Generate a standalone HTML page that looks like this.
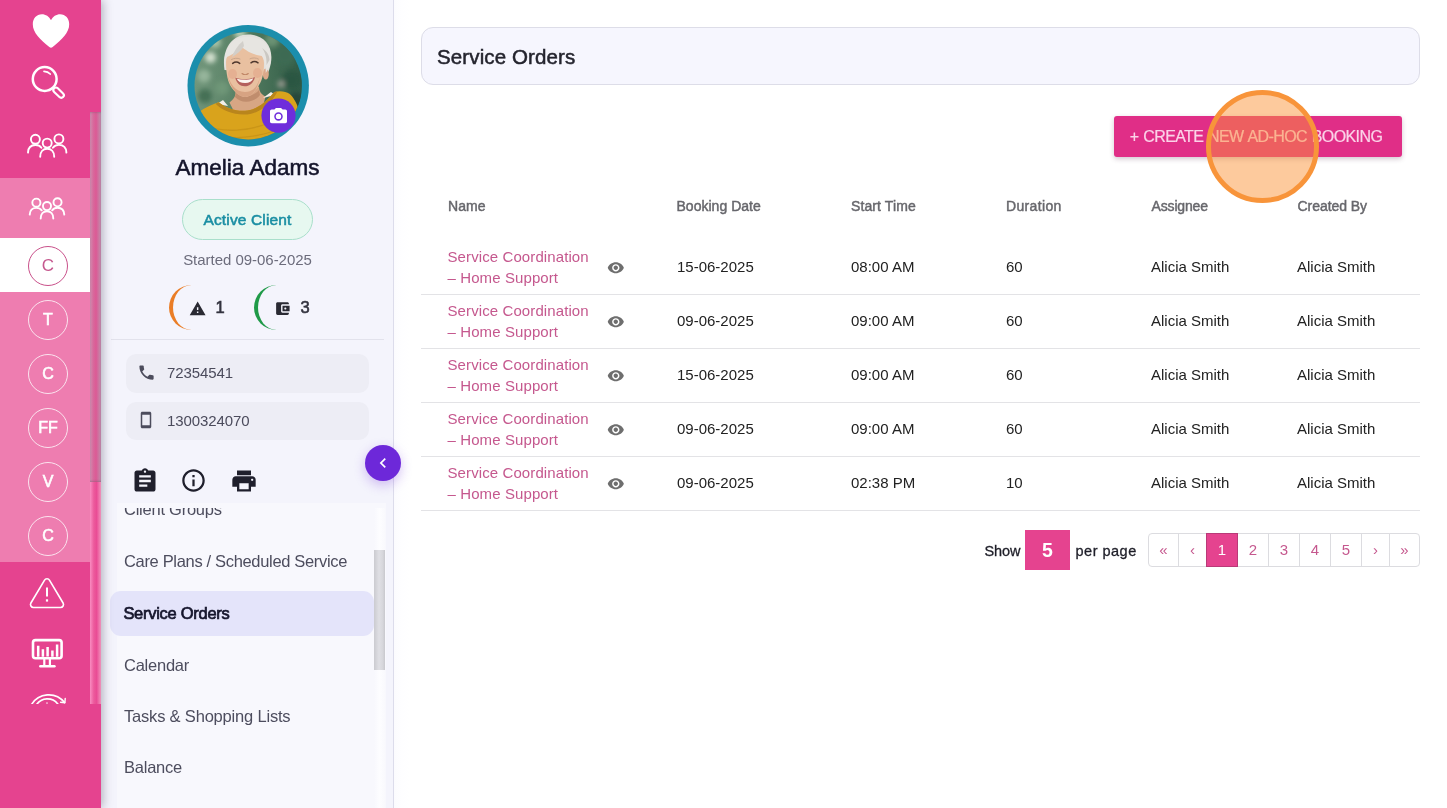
<!DOCTYPE html>
<html lang="en">
<head>
<meta charset="utf-8">
<title>Service Orders</title>
<style>
*{box-sizing:border-box;margin:0;padding:0}
html,body{width:1447px;height:808px;overflow:hidden;background:#fff}
body{font-family:"Liberation Sans",sans-serif;position:relative;color:#222}
.abs{position:absolute}
/* ---------- left rail ---------- */
#rail{position:absolute;left:0;top:0;width:101px;height:808px;background:#e5438f;box-shadow:2px 0 9px rgba(55,50,70,.34);z-index:5}
#rail .light{position:absolute;left:0;top:178px;width:90px;height:384px;background:#ee7db0}
#rail .sel{position:absolute;left:0;top:238px;width:90px;height:54px;background:#fff}
#rail .sb{position:absolute;left:90px;top:112px;width:11px;height:592px}
#rail .track{position:absolute;left:0;top:369px;width:11px;height:223px;background:linear-gradient(90deg,#f98cc1 0,#ec5a9c 35%,#e94c95 60%,#ef80b2 90%,#ea95bb 100%)}
#rail .thumb{position:absolute;left:0;top:0;width:11px;height:370px;background:linear-gradient(90deg,#cf8cae 0,#d8699c 30%,#dc5a95 55%,#c483a6 90%,#be86a8 100%);box-shadow:inset 0 -2px 2px -1px rgba(120,90,110,.45),inset 0 2px 2px -1px rgba(120,90,110,.35)}
.ini{position:absolute;left:28px;width:40px;height:40px;border-radius:50%;border:1.3px solid #fbe3ee;color:#fff;-webkit-text-stroke:.6px #fff;font-size:16px;text-align:center;line-height:38px}
.ini.on{border-color:#c9508a;color:#c5588e;-webkit-text-stroke:0;font-size:17px;line-height:37.500px}
/* ---------- profile panel ---------- */
#panel{position:absolute;left:101px;top:0;width:293px;height:808px;background:#f4f4fc;border-right:1px solid #dcdceb;z-index:2}
#main{position:absolute;left:394px;top:0;width:1053px;height:808px;background:linear-gradient(90deg,#fbfbfe 0,#fefeff 8px,#fff 16px)}
.nm{position:absolute;left:0;width:293px;text-align:center}
.field{position:absolute;left:25px;width:243px;height:39px;border-radius:10px;background:#ededf5}
.field span{position:absolute;left:41px;top:10px;font-size:15px;color:#4b4b5c;letter-spacing:-.1px}
.mi{position:absolute;left:23px;font-size:16.5px;color:#4d4d5e;white-space:nowrap;letter-spacing:-.24px}
/* ---------- table ---------- */
.th{position:absolute;top:198px;font-size:14px;color:#67676c;-webkit-text-stroke:.45px #67676c;white-space:nowrap;letter-spacing:.1px}
.row{position:absolute;left:27px;width:999px;height:54px;border-bottom:1px solid #e3e3e6}
.row span{position:absolute;top:17px;font-size:15px;color:#222;white-space:nowrap}
.row .lnk{top:4.500px;left:26.500px;color:#c5588e;line-height:21px;letter-spacing:.1px}
.row svg{position:absolute;left:186px;top:18px}
.pg{position:absolute;top:533px;height:34px;border:1px solid #dcdce0;background:#fff;color:#c5588e;font-size:15px;text-align:center;line-height:31px}
</style>
</head>
<body>
<div id="main">
<div class="abs" id="card" style="left:27px;top:27px;width:999px;height:58px;border-radius:12px;background:#f6f6fe;border:1px solid #dddde8"></div>
<div class="abs" id="title" style="left:43px;top:45px;font-size:20.500px;color:#24242e;-webkit-text-stroke:.5px #24242e;white-space:nowrap;letter-spacing:.12px">Service Orders</div>
<div class="abs" id="btn" style="left:720px;top:116px;width:288px;height:41px;border-radius:3px;padding-right:4px;background:#e02e87;box-shadow:0 2px 5px rgba(70,20,60,.24);color:#fbd3e8;font-size:16px;text-align:center;line-height:41.500px;white-space:nowrap;letter-spacing:-.6px;word-spacing:.9px;-webkit-text-stroke:.2px #fbd3e8">+ CREATE NEW AD-HOC BOOKING</div>
<div class="th" style="left:54px">Name</div>
<div class="th" style="left:282.500px;letter-spacing:.02px">Booking Date</div>
<div class="th" style="left:457px">Start Time</div>
<div class="th" style="left:612px;letter-spacing:.35px">Duration</div>
<div class="th" style="left:757.500px;letter-spacing:-.15px">Assignee</div>
<div class="th" style="left:903.500px;letter-spacing:-.05px">Created By</div>
<div class="row" style="top:241px"><span class="lnk">Service Coordination<br>– Home Support</span><svg width="17.600" height="17.600" viewBox="0 0 24 24"><path fill="#6e6e6e" d="M12 4.500C7 4.500 2.730 7.610 1 12c1.730 4.390 6 7.500 11 7.500s9.270-3.110 11-7.500c-1.730-4.390-6-7.500-11-7.500zM12 17c-2.760 0-5-2.240-5-5s2.240-5 5-5 5 2.240 5 5-2.240 5-5 5zm0-8c-1.660 0-3 1.340-3 3s1.340 3 3 3 3-1.340 3-3-1.340-3-3-3z"/></svg><span style="left:256px">15-06-2025</span><span style="left:430px">08:00 AM</span><span style="left:585px">60</span><span style="left:730px">Alicia Smith</span><span style="left:876px">Alicia Smith</span></div>
<div class="row" style="top:295px"><span class="lnk">Service Coordination<br>– Home Support</span><svg width="17.600" height="17.600" viewBox="0 0 24 24"><path fill="#6e6e6e" d="M12 4.500C7 4.500 2.730 7.610 1 12c1.730 4.390 6 7.500 11 7.500s9.270-3.110 11-7.500c-1.730-4.390-6-7.500-11-7.500zM12 17c-2.760 0-5-2.240-5-5s2.240-5 5-5 5 2.240 5 5-2.240 5-5 5zm0-8c-1.660 0-3 1.340-3 3s1.340 3 3 3 3-1.340 3-3-1.340-3-3-3z"/></svg><span style="left:256px">09-06-2025</span><span style="left:430px">09:00 AM</span><span style="left:585px">60</span><span style="left:730px">Alicia Smith</span><span style="left:876px">Alicia Smith</span></div>
<div class="row" style="top:349px"><span class="lnk">Service Coordination<br>– Home Support</span><svg width="17.600" height="17.600" viewBox="0 0 24 24"><path fill="#6e6e6e" d="M12 4.500C7 4.500 2.730 7.610 1 12c1.730 4.390 6 7.500 11 7.500s9.270-3.110 11-7.500c-1.730-4.390-6-7.500-11-7.500zM12 17c-2.760 0-5-2.240-5-5s2.240-5 5-5 5 2.240 5 5-2.240 5-5 5zm0-8c-1.660 0-3 1.340-3 3s1.340 3 3 3 3-1.340 3-3-1.340-3-3-3z"/></svg><span style="left:256px">15-06-2025</span><span style="left:430px">09:00 AM</span><span style="left:585px">60</span><span style="left:730px">Alicia Smith</span><span style="left:876px">Alicia Smith</span></div>
<div class="row" style="top:403px"><span class="lnk">Service Coordination<br>– Home Support</span><svg width="17.600" height="17.600" viewBox="0 0 24 24"><path fill="#6e6e6e" d="M12 4.500C7 4.500 2.730 7.610 1 12c1.730 4.390 6 7.500 11 7.500s9.270-3.110 11-7.500c-1.730-4.390-6-7.500-11-7.500zM12 17c-2.760 0-5-2.240-5-5s2.240-5 5-5 5 2.240 5 5-2.240 5-5 5zm0-8c-1.660 0-3 1.340-3 3s1.340 3 3 3 3-1.340 3-3-1.340-3-3-3z"/></svg><span style="left:256px">09-06-2025</span><span style="left:430px">09:00 AM</span><span style="left:585px">60</span><span style="left:730px">Alicia Smith</span><span style="left:876px">Alicia Smith</span></div>
<div class="row" style="top:457px"><span class="lnk">Service Coordination<br>– Home Support</span><svg width="17.600" height="17.600" viewBox="0 0 24 24"><path fill="#6e6e6e" d="M12 4.500C7 4.500 2.730 7.610 1 12c1.730 4.390 6 7.500 11 7.500s9.270-3.110 11-7.500c-1.730-4.390-6-7.500-11-7.500zM12 17c-2.760 0-5-2.240-5-5s2.240-5 5-5 5 2.240 5 5-2.240 5-5 5zm0-8c-1.660 0-3 1.340-3 3s1.340 3 3 3 3-1.340 3-3-1.340-3-3-3z"/></svg><span style="left:256px">09-06-2025</span><span style="left:430px">02:38 PM</span><span style="left:585px">10</span><span style="left:730px">Alicia Smith</span><span style="left:876px">Alicia Smith</span></div>

<div class="abs" id="show" style="left:590.500px;top:543px;font-size:14.500px;color:#1e1e28;-webkit-text-stroke:.3px #1e1e28;white-space:nowrap;letter-spacing:-.1px">Show</div>
<div class="abs" style="left:631px;top:530px;width:45px;height:40px;background:#e5438f;color:#fff;font-weight:700;font-size:19.500px;text-align:center;line-height:40.500px">5</div>
<div class="abs" id="pp" style="left:681.500px;top:543px;font-size:14.500px;color:#1e1e28;-webkit-text-stroke:.3px #1e1e28;white-space:nowrap;letter-spacing:.5px">per page</div>
<div class="pg" style="left:754px;width:31px;border-radius:4px 0 0 4px">«</div>
<div class="pg" style="left:784px;width:29px">‹</div>
<div class="pg" style="left:843px;width:32px">2</div>
<div class="pg" style="left:874px;width:32px">3</div>
<div class="pg" style="left:905px;width:32px">4</div>
<div class="pg" style="left:936px;width:32px">5</div>
<div class="pg" style="left:967px;width:29px">›</div>
<div class="pg" style="left:995px;width:31px;border-radius:0 4px 4px 0">»</div>
<div class="pg" style="left:812px;width:32px;background:#e5438f;border-color:#b93a78;color:#fff">1</div>
<div class="abs" id="ring" style="left:811.500px;top:89.700px;width:113px;height:113px;border-radius:50%;border:5.800px solid #f8943a;background:rgba(251,146,55,.49)"></div>
</div>
<div id="panel">
<!-- avatar (page coords via viewBox) -->
<svg class="abs" style="left:79px;top:18px" width="136" height="136" viewBox="180 18 136 136">
<defs>
<clipPath id="pc"><circle cx="248.2" cy="85.700" r="53.700"/></clipPath>
<linearGradient id="bgG" x1="0" x2="1" y1="0" y2="0"><stop offset="0" stop-color="#74987d"/><stop offset=".45" stop-color="#557e62"/><stop offset="1" stop-color="#2b5642"/></linearGradient>
<filter id="bl" x="-20%" y="-20%" width="140%" height="140%"><feGaussianBlur stdDeviation="2.600"/></filter>
<filter id="bl2" x="-20%" y="-20%" width="140%" height="140%"><feGaussianBlur stdDeviation=".55"/></filter>
</defs>
<circle cx="248.2" cy="85.700" r="60.700" fill="#1b8eac"/>
<g clip-path="url(#pc)">
<rect x="190" y="28" width="120" height="120" fill="url(#bgG)"/>
<g filter="url(#bl)">
<circle cx="210.500" cy="57.500" r="5.500" fill="#d3e0cf"/><circle cx="204" cy="76" r="6.500" fill="#96b59b"/><circle cx="215" cy="42" r="6" fill="#a9c3a8"/><circle cx="222" cy="88" r="7" fill="#6f9778"/><circle cx="205" cy="96" r="7" fill="#456f55"/>
<circle cx="285" cy="55" r="11" fill="#3d6b52"/><circle cx="292" cy="80" r="10" fill="#2b5743"/><circle cx="281" cy="84" r="3.500" fill="#9a9c93"/><circle cx="272" cy="40" r="7" fill="#6a9273"/><circle cx="296" cy="100" r="8" fill="#27473a"/><circle cx="240" cy="33" r="6" fill="#b7cbb2"/>
</g>
<g filter="url(#bl2)">
<!-- neck -->
<path d="M235.500 90c.5 5-1 9-6 12.500l6 12 26-2 4-16c-4-2-6.500-5-6.500-10z" fill="#d7a684"/>
<path d="M236 92c5 6 16 6 23-2l1 5c-6 8-19 9-25 2z" fill="#c08d6d"/>
<!-- hair back -->
<path d="M224.500 70c-3-20 7-35.500 23.500-35.500 16 0 26 12 22.800 29-1 5-2.300 9-4.300 12l-2-3z" fill="#e3e1dd"/>
<!-- ear -->
<ellipse cx="265.800" cy="74" rx="3" ry="5.500" fill="#dca98a"/>
<!-- face -->
<path d="M226 62c0-9 8-14 19-14s19 6 19 15c0 8-1 16-5 22-4 7-9 12-14 12s-11-5-15-12c-3-6-4-15-4-23z" fill="#e9c0a0"/>
<path d="M227 74c3 9 8 18 18 18s13-8 15-15c-2 11-7 20-15 20s-15-10-18-23z" fill="#d7a382"/>
<ellipse cx="232.500" cy="74" rx="4.500" ry="5" fill="#e3a98c" opacity=".7"/><ellipse cx="257.500" cy="73" rx="4.500" ry="5" fill="#e3a98c" opacity=".7"/>
<!-- fringe -->
<path d="M224.800 66c-1.500-12 3-22 12-27 9-4 22-3 29 5 5 6 6 14 4 22l-4 7c0-8-1-13-4-17-8-1-16-5-21-10-4 6-9 9-14 11-1.500 3-2 6-2 9z" fill="#e7e5e1"/>
<path d="M243 41c-5 4-9 10-11 16 5-3 9-6 12-11z" fill="#d2cfca"/>
<path d="M262 48c3 4 5 10 4.500 17l3-5c0-5-3-9-7.500-12z" fill="#cbc8c2"/>
<!-- eyes / brows -->
<path d="M232.700 63.400c2-1.500 5-1.500 7 0M251 62.800c2-1.500 5-1.500 7 0" stroke="#4e372d" stroke-width="1.500" fill="none" stroke-linecap="round"/>
<path d="M231.500 59.500c2.500-1.500 6-1.700 8.500-.5M250 58.800c2.500-1.300 6-1.200 8.500.3" stroke="#c9a58b" stroke-width="1" fill="none" stroke-linecap="round"/>
<!-- nose -->
<path d="M242 73.500c1.700 1.400 4.600 1.400 6.300 0" stroke="#c08565" stroke-width="1.100" fill="none" stroke-linecap="round"/>
<!-- mouth -->
<path d="M235.300 77.800c6 2 13.500 2 19.700-.8-1.500 6.200-5.600 9.300-10.300 9.300s-8.200-3.200-9.400-8.500z" fill="#b4615b"/>
<path d="M236.800 78.800c5 1.500 11.500 1.400 16.500-.5-1 3.200-4 4.800-8.200 4.800s-7.300-1.500-8.300-4.300z" fill="#fbf6f0"/>
<!-- shirt hints -->
<path d="M217 104l6-4 5 6zM263 98l8-6 4 3z" fill="#f3efe9"/>
<!-- sweater -->
<path d="M194 117c4-5.500 13-11 24.700-14.800 7 6 19 9.800 28.600 8.300 10.700-1.500 19.700-9.500 27-18.500 5.700-1.500 11.700-.5 15.100 1.800 8.600 7.200 13.600 24.200 14.600 56.200H186z" fill="#d9a31e"/>
<path d="M218.700 102.200c7 6 19 9.800 28.600 8.300 10.700-1.500 19.700-9.500 27-18.500l3.200-.6c-6 11.500-17 21.500-30 23-12 1.300-25-3.400-32-10.600z" fill="#b9851a"/>
<path d="M200 124c22 9 50 9 78-5M205 133c24 7 48 6 72-3M215 141c20 4 38 3 56-2" stroke="#bd8a14" stroke-width="1.300" fill="none" opacity=".55"/>
</g>
</g>
<circle cx="278.500" cy="115.600" r="17.100" fill="#6f2ddb"/>
<g transform="translate(268.300 106.200) scale(.85)" fill="#fff"><circle cx="12" cy="12" r="3.200"/><path d="M9 2L7.170 4H4c-1.100 0-2 .9-2 2v12c0 1.100.9 2 2 2h16c1.100 0 2-.9 2-2V6c0-1.100-.9-2-2-2h-3.170L15 2H9zm3 15c-2.760 0-5-2.240-5-5s2.240-5 5-5 5 2.240 5 5-2.240 5-5 5z"/></g>
</svg>
<div class="nm" id="pname" style="top:155px;font-size:22.500px;color:#14142b;-webkit-text-stroke:.55px #14142b;letter-spacing:0">Amelia Adams</div>
<div class="abs" id="badge" style="left:81px;top:199px;width:131px;height:41px;border-radius:21px;background:#e7f8f0;border:1px solid #a9dfcb;text-align:center;line-height:39px;font-size:15.500px;color:#1a8ea3;-webkit-text-stroke:.55px #1a8ea3;letter-spacing:.15px">Active Client</div>
<div class="nm" id="started" style="top:250.500px;font-size:15px;color:#6c6c7c;letter-spacing:-.03px">Started 09-06-2025</div>
<!-- counters -->
<div class="abs" style="left:68px;top:284.500px;width:45.500px;height:45.500px;border-radius:50%;border-left:4.600px solid #ea7d26"></div>
<div class="abs" style="left:153.200px;top:284.500px;width:45.500px;height:45.500px;border-radius:50%;border-left:4.600px solid #1f9a48"></div>
<svg class="abs" style="left:88.300px;top:299.500px" width="17.300" height="17.300" viewBox="0 0 24 24"><path fill="#2a2a33" d="M1 21h22L12 2 1 21zm12-3h-2v-2h2v2zm0-4h-2v-4h2v4z"/></svg>
<div class="abs" style="left:114.500px;top:298px;font-size:16.500px;color:#33333f;-webkit-text-stroke:.6px #33333f">1</div>
<svg class="abs" style="left:173px;top:299.500px" width="17" height="17" viewBox="0 0 24 24"><path fill="#2a2a33" d="M21 18v1c0 1.100-.9 2-2 2H5c-1.110 0-2-.9-2-2V5c0-1.100.89-2 2-2h14c1.100 0 2 .9 2 2v1h-9c-1.110 0-2 .9-2 2v8c0 1.100.89 2 2 2h9zm-9-2h10V8H12v8zm4-2.500c-.83 0-1.500-.67-1.500-1.500s.67-1.500 1.500-1.500 1.500.67 1.500 1.500-.67 1.500-1.500 1.500z"/></svg>
<div class="abs" style="left:199.500px;top:298px;font-size:16.500px;color:#33333f;-webkit-text-stroke:.6px #33333f">3</div>
<div class="abs" style="left:10px;top:339px;width:273px;height:1px;background:#e2e2ec"></div>
<!-- contact fields -->
<div class="field" style="top:354px"><svg class="abs" style="left:11px;top:9px" width="19" height="19" viewBox="0 0 24 24"><path fill="#4c4c5c" d="M6.620 10.790c1.440 2.830 3.760 5.140 6.590 6.590l2.200-2.200c.27-.27.67-.36 1.020-.24 1.120.37 2.330.57 3.570.57.550 0 1 .45 1 1V20c0 .550-.45 1-1 1-9.390 0-17-7.610-17-17 0-.55.450-1 1-1h3.500c.550 0 1 .450 1 1 0 1.250.2 2.450.570 3.570.11.350.03.740-.25 1.020l-2.200 2.200z"/></svg><span>72354541</span></div>
<div class="field" style="top:402px;height:38px"><svg class="abs" style="left:11px;top:9px" width="18" height="18" viewBox="0 0 24 24"><path fill="#4c4c5c" d="M17 1.010L7 1c-1.100 0-2 .9-2 2v18c0 1.100.9 2 2 2h10c1.100 0 2-.9 2-2V3c0-1.100-.9-1.990-2-1.990zM17 19H7V5h10v14z"/></svg><span>1300324070</span></div>
<!-- action icons -->
<svg class="abs" style="left:29.500px;top:467px" width="28" height="28" viewBox="0 0 24 24"><path fill="#1f1f2c" d="M19 3h-4.180C14.400 1.840 13.300 1 12 1c-1.300 0-2.400.84-2.820 2H5c-1.100 0-2 .9-2 2v14c0 1.100.9 2 2 2h14c1.100 0 2-.9 2-2V5c0-1.100-.9-2-2-2zm-7 0c.55 0 1 .45 1 1s-.45 1-1 1-1-.45-1-1 .45-1 1-1zm2 14H7v-2h7v2zm3-4H7v-2h10v2zm0-4H7V7h10v2z"/></svg>
<svg class="abs" style="left:78.700px;top:467.200px" width="27" height="27" viewBox="0 0 24 24"><path fill="#1f1f2c" d="M11 17h2v-6h-2v6zm1-15C6.480 2 2 6.480 2 12s4.480 10 10 10 10-4.480 10-10S17.520 2 12 2zm0 18c-4.410 0-8-3.590-8-8s3.590-8 8-8 8 3.590 8 8-3.590 8-8 8zM11 9h2V7h-2v2z"/></svg>
<svg class="abs" style="left:128.700px;top:466.700px" width="28" height="28" viewBox="0 0 24 24"><path fill="#1f1f2c" d="M19 8H5c-1.660 0-3 1.340-3 3v6h4v4h12v-4h4v-6c0-1.660-1.340-3-3-3zm-3 11H8v-5h8v5zm3-7c-.55 0-1-.45-1-1s.45-1 1-1 1 .45 1 1-.45 1-1 1zm-1-9H6v4h12V3z"/></svg>
<!-- menu -->
<div class="abs" style="left:16px;top:502.500px;width:269px;height:306px;background:#f8f8fd"></div>
<div class="abs" id="menu" style="left:0;top:507.500px;width:292px;height:301px;overflow:hidden"><div class="abs" style="left:0;top:-1.500px;width:292px;height:302px">
<div class="abs" style="left:9px;top:85px;width:263.500px;height:45px;border-radius:11px;background:#e4e4fa"></div>
<div class="mi" style="top:-6.500px">Client Groups</div>
<div class="mi" style="top:45.500px;letter-spacing:-.33px">Care Plans / Scheduled Service</div>
<div class="mi" style="top:98px;left:22.400px;color:#14142b;-webkit-text-stroke:.7px #14142b;letter-spacing:-.28px">Service Orders</div>
<div class="mi" style="top:149.500px">Calendar</div>
<div class="mi" style="top:200.500px;letter-spacing:-.19px">Tasks &amp; Shopping Lists</div>
<div class="mi" style="top:252px">Balance</div>
<div class="abs" style="left:273px;top:2px;width:11px;height:300px;background:linear-gradient(90deg,#f8f8fd,#fdfdff 50%,#f9f9fd)"></div>
<div class="abs" style="left:273px;top:44px;width:11px;height:120px;background:linear-gradient(90deg,#cbcbd0,#dfdfe4 45%,#d6d6db 80%,#c8c8cd)"></div>
</div></div>
<!-- collapse button -->
<div class="abs" style="left:264px;top:445px;width:36px;height:36px;border-radius:50%;background:#6d28d9;box-shadow:0 4px 12px rgba(109,40,217,.28)"><svg class="abs" style="left:8px;top:8px" width="20" height="20" viewBox="0 0 24 24"><path fill="#fff" d="M15.410 7.410L14 6l-6 6 6 6 1.410-1.410L10.830 12z"/></svg></div>
</div>
<div id="rail">
<div class="light"></div>
<div class="sel"></div>
<div class="sb"><div class="track"></div><div class="thumb"></div></div>
<svg class="abs" style="left:0;top:0" width="90" height="704" viewBox="0 0 90 704" fill="none" stroke="#fff" stroke-linecap="round" stroke-linejoin="round">
<!-- heart -->
<path fill="#fff" stroke="none" d="M51 20.300C49.200 16.600 45.700 14.300 41.900 14.300 36.500 14.300 32.800 18.600 32.800 24.200c0 8.600 7.400 15.200 16.500 22.900q1.700 1.400 3.400 0c9.100-7.700 16.500-14.300 16.500-22.900 0-5.600-3.700-9.900-9.100-9.900-3.800 0-7.300 2.300-9.100 6z"/>
<!-- search -->
<g><circle cx="44.700" cy="79" r="11.900" stroke-width="2.500"/><g transform="translate(44.700 79) rotate(44.500)"><rect x="13.200" y="-2.600" width="12.600" height="5.200" rx="2.600" stroke-width="2.100"/></g><path d="M44 71.300c2.600.1 4.700 1 6.200 2.700" stroke-width="1.700"/></g>
<!-- people 1 -->
<g stroke-width="1.9" id="ppl"><circle cx="35.4" cy="139.3" r="4.500"/><circle cx="47.2" cy="143.1" r="4.500"/><circle cx="58.9" cy="138.9" r="4.500"/><path d="M28 152.600C28.200 147.500 31.300 145 35.400 145c2.700 0 4.800 1.100 6 2.800"/><path d="M40.200 156.800c0-5 2.900-8 7-8s7 3 7 8"/><path d="M52.900 147.800c1.300-1.800 3.300-2.900 6-2.900 4.200 0 7.300 2.600 7.500 7.700"/></g>
<!-- people 2 -->
<g transform="translate(47 208) scale(.9) translate(-47.200 -145.200)" stroke-width="2.1"><circle cx="35.4" cy="139.3" r="4.500"/><circle cx="47.2" cy="143.1" r="4.500"/><circle cx="58.9" cy="138.9" r="4.500"/><path d="M28 152.600C28.200 147.500 31.300 145 35.400 145c2.700 0 4.800 1.100 6 2.800"/><path d="M40.200 156.800c0-5 2.900-8 7-8s7 3 7 8"/><path d="M52.900 147.800c1.300-1.800 3.300-2.900 6-2.900 4.200 0 7.300 2.600 7.500 7.700"/></g>
<!-- warning -->
<g stroke-width="1.600"><path d="M44.400 580.300a3 3 0 0 1 5.200 0l13.500 22.700a3 3 0 0 1-2.600 4.500H33.500a3 3 0 0 1-2.600-4.500z"/><path d="M47 587.500v9" stroke-width="2" stroke-linecap="butt"/><path d="M47 599.300v2.300" stroke-width="2.200" stroke-linecap="butt"/></g>
<!-- monitor -->
<g stroke-width="2.600"><rect x="33" y="640.100" width="28.600" height="18.200" rx="2.500"/><path d="M38.200 645.700v11M42.900 649.200v7.500M47.600 647v9.500M52.400 650.400v6.300M57.100 644.500v12.200" stroke-width="2.500" stroke-linecap="butt"/><path d="M44.300 659.500v6M49.900 659.500v6" stroke-width="2.200"/><path d="M40.300 666.200h14.200" stroke-width="2.400"/></g>
<!-- gauge (clipped) -->
<g stroke-width="1.700"><path d="M31.300 705a20 20 0 0 1 33.200-2.500"/><path d="M36.300 705a13.200 13.200 0 0 1 21.500-1"/><path d="M60.600 702.300l4.300.4.300-4.200" stroke-width="1.400"/><path d="M47 702.800v.4" stroke-width="1.300"/></g>
</svg>
<div class="ini on" style="top:245.500px">C</div>
<div class="ini" style="top:299.500px">T</div>
<div class="ini" style="top:353.500px">C</div>
<div class="ini" style="top:407.500px">FF</div>
<div class="ini" style="top:461.500px">V</div>
<div class="ini" style="top:515.500px">C</div>
</div>
</body>
</html>
